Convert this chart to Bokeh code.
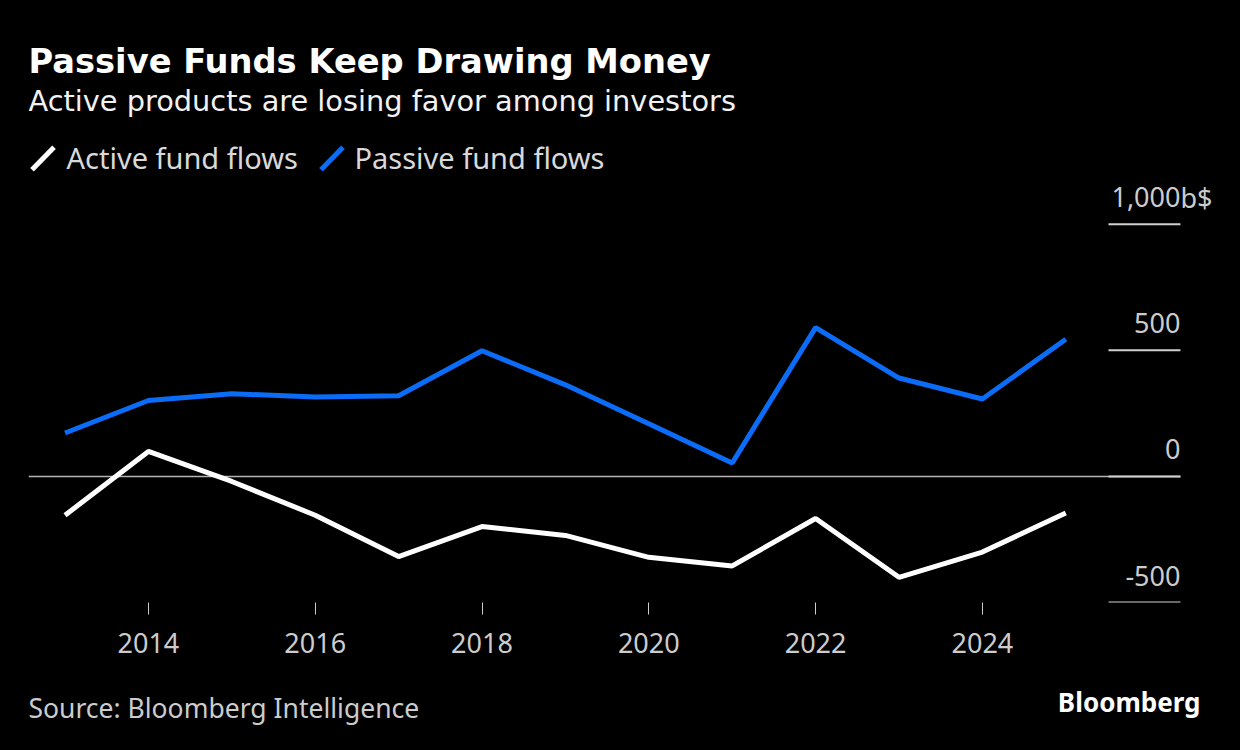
from bokeh.plotting import figure
from bokeh.layouts import column
from bokeh.models import Label, Arrow, Range1d, FixedTicker
from bokeh.core.properties import value
from bokeh.embed import file_html
from bokeh.resources import INLINE

# ---- data ----
years = list(range(2013, 2026))
active = [-154, 99, -20, -154, -318, -199, -234, -321, -355, -167, -400, -300, -145]
passive = [172, 301, 328, 315, 320, 498, 363, 209, 53, 590, 390, 307, 544]
x_ticks = [2014, 2016, 2018, 2020, 2022, 2024]
y_ticks = [-500, 0, 500, 1000]
y_labels = ["-500", "0", "500", "1,000"]

FONT = "Noto Sans"
FONT_WIDE = "DejaVu Sans"
BLUE = "#0b6cf7"
GREY = "#cccccc"

X0, X1 = 2012.562, 2027.095      # frame extent in years
AX_R = 2026.375                  # right edge of the value axis
AX_TICK_L = 2025.512             # left end of the short value-axis ticks

p = figure(width=1240, height=680, output_backend="svg", toolbar_location=None,
           x_range=Range1d(X0, X1), y_range=Range1d(-500, 1887),
           min_border_left=28, min_border_right=0, min_border_top=0,
           min_border_bottom=78, y_axis_location=None,
           background_fill_color="black", border_fill_color=None,
           outline_line_color=None, styles={"background-color": "black"})
p.grid.visible = False

ax = p.xaxis[0]
ax.ticker = FixedTicker(ticks=x_ticks)
ax.axis_line_color = None
ax.major_tick_line_color = GREY
ax.major_tick_line_width = 1
ax.major_tick_out = 12
ax.major_tick_in = 0
ax.minor_tick_line_color = None
ax.major_label_text_font = FONT
ax.major_label_text_font_size = "27px"
ax.major_label_text_color = GREY
ax.major_label_standoff = 18

# zero line and value-axis ticks
p.segment(x0=[X0], x1=[AX_R], y0=[0], y1=[0], line_color="#b5b5b5", line_width=1.5)
p.segment(x0=[AX_TICK_L] * len(y_ticks), x1=[AX_R] * len(y_ticks),
          y0=y_ticks, y1=y_ticks, line_color="#d0d0d0", line_width=2)
p.text(x=[AX_R] * len(y_ticks), y=y_ticks, text=y_labels, text_align="right",
       text_baseline="alphabetic", y_offset=-27, text_font=value(FONT),
       text_font_size="27px", text_color=GREY)
p.text(x=[AX_R], y=[y_ticks[-1]], text=["b$"], text_align="left",
       text_baseline="alphabetic", y_offset=-27, text_font=value(FONT),
       text_font_size="27px", text_color=GREY)

# series
p.line(years, active, line_color="white", line_width=5)
p.line(years, passive, line_color=BLUE, line_width=5)


def lab(fig, x, y, text, size, color, font=FONT, style="normal", align="left"):
    fig.add_layout(Label(x=x, y=y, x_units="screen", y_units="screen", text=text,
                         text_font=font, text_font_size=size, text_color=color,
                         text_font_style=style, text_align=align,
                         text_baseline="alphabetic"))


# titles / legend (screen units relative to frame bottom-left)
lab(p, 0, 541, "Passive Funds Keep Drawing Money", "33.7px", "white", FONT_WIDE, "bold")
lab(p, 0, 502, "Active products are losing favor among investors", "28.8px", "#f2f2f2", FONT_WIDE)
lab(p, 38, 445, "Active fund flows", "29px", "#d9d9d9")
lab(p, 326, 445, "Passive fund flows", "29px", "#d9d9d9")

for xs, color in [(3.5, "white"), (292.5, BLUE)]:
    p.add_layout(Arrow(x_start=xs, y_start=432.7, x_end=xs + 22, y_end=455.3,
                       start_units="screen", end_units="screen", end=None,
                       line_color=color, line_width=5))

# footer (its frame is aligned with the main frame, which starts at x=28)
f = figure(width=1240, height=70, output_backend="svg", toolbar_location=None,
           x_range=Range1d(0, 1), y_range=Range1d(0, 1),
           x_axis_location=None, y_axis_location=None, min_border=0,
           background_fill_color="black", border_fill_color=None,
           outline_line_color=None, styles={"background-color": "black"})
f.grid.visible = False
lab(f, 0, 43, "Source: Bloomberg Intelligence", "26.5px", GREY)
lab(f, 1172, 49, "Bloomberg", "26px", "white", FONT, "bold", "right")

layout = column(p, f, spacing=0, styles={"background-color": "black"})

html = file_html(layout, INLINE)
html = html.replace("<head>", "<head><style>html,body{background:#000;margin:0;}</style>", 1)
open("out.html", "w").write(html)
